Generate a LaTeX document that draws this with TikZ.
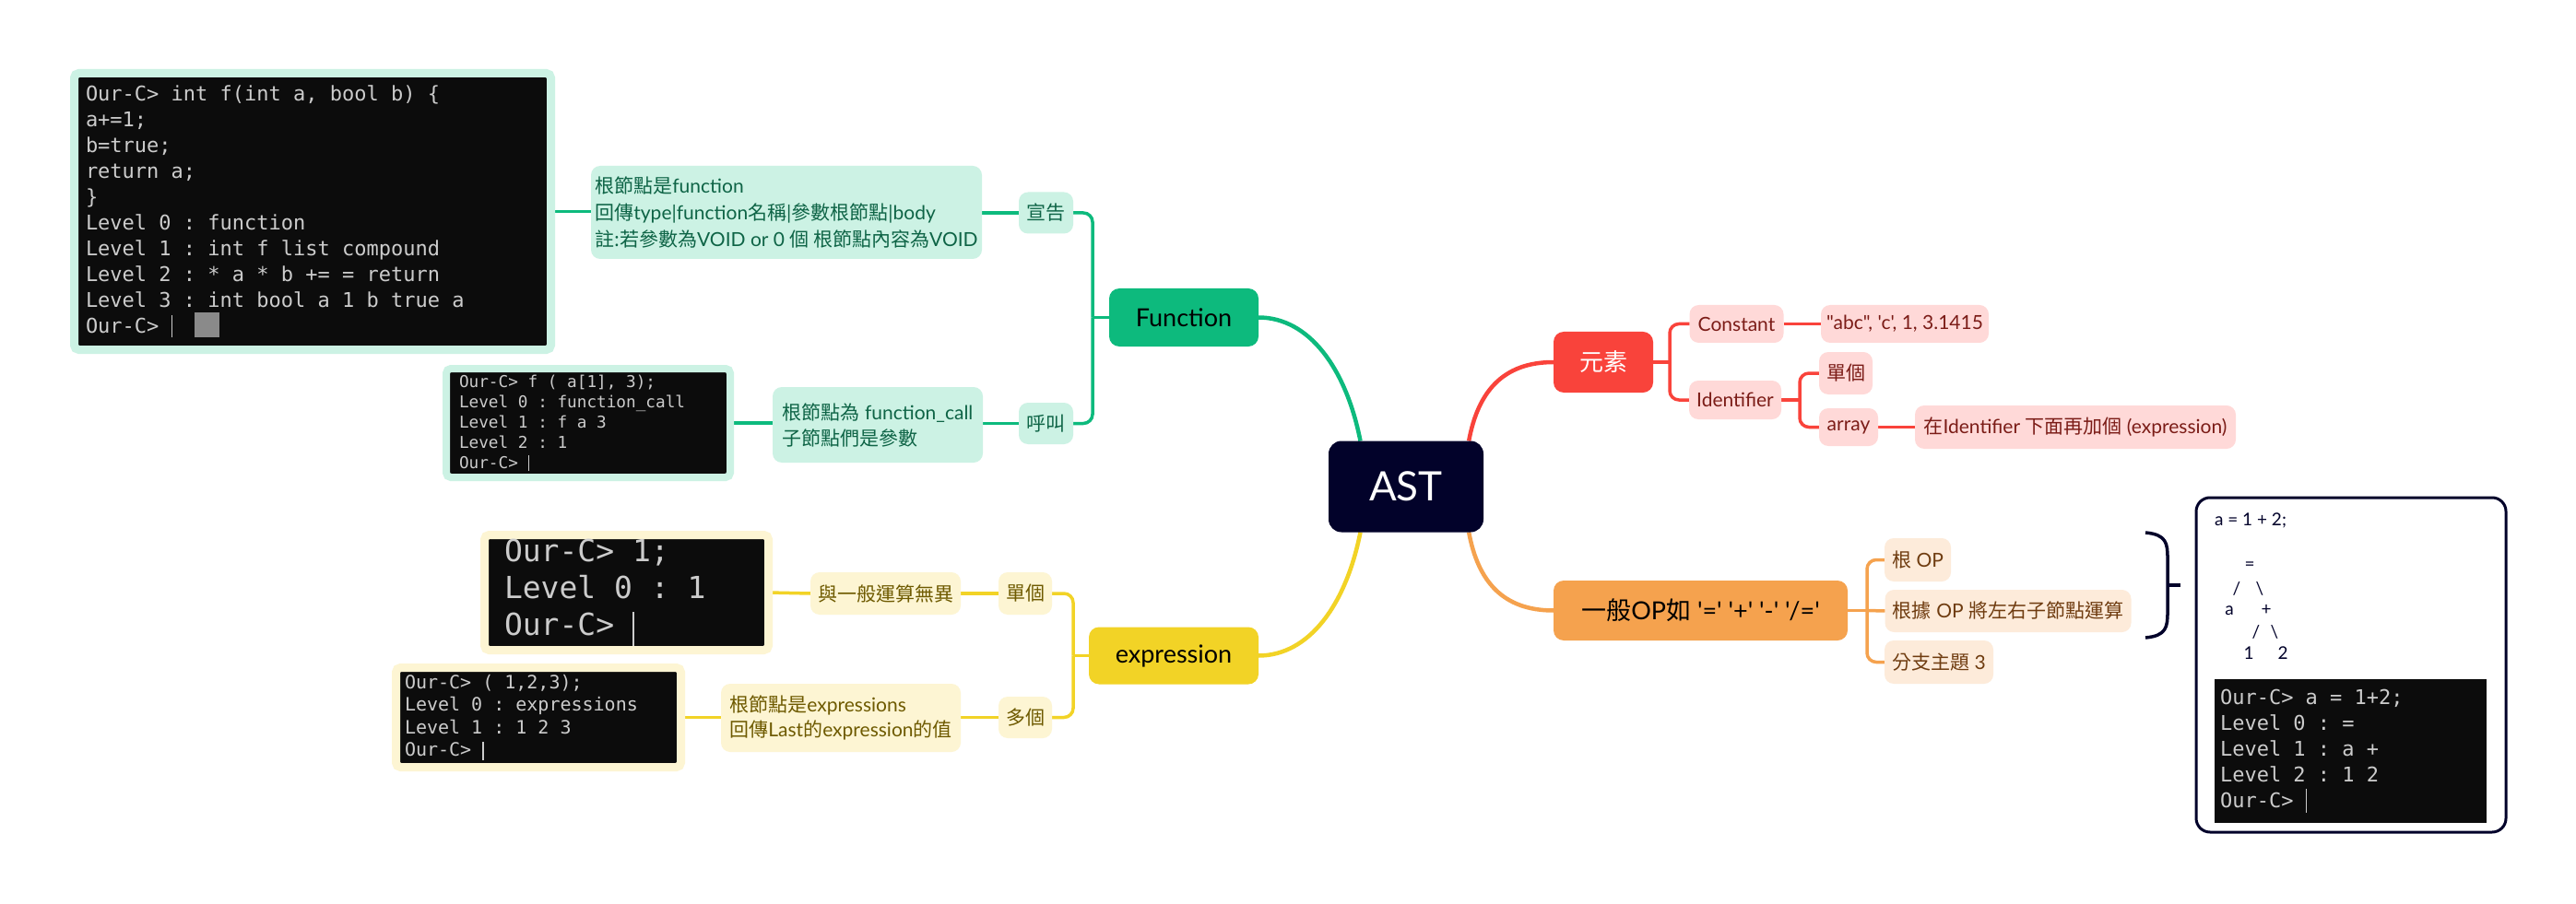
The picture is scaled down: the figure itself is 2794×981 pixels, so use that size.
\documentclass[tikz,border=0pt]{standalone}
\usepackage{fontspec}
\setmainfont{Lato}[Ligatures=TeXOff]
\newfontfamily\cjk{Noto Sans CJK TC}
\newfontfamily\term{DejaVu Sans Mono}[Ligatures=TeXOff]
\newcommand\myfs[2]{\fontsize{#1}{#2}\selectfont}
\newcommand\mono[2]{\term\fontsize{#1}{#2}\selectfont\frenchspacing}
\newcommand\msp{\spaceskip=0.602em\relax\xspaceskip=0.602em\relax}
\newcommand\zh[1]{{\cjk #1}}
\usetikzlibrary{calc}
\pgfdeclarelayer{bgl}
\pgfsetlayers{bgl,main}
\definecolor{cgreen}{HTML}{0DBA7D}
\definecolor{cmint}{HTML}{CCF2E4}
\definecolor{cmintt}{HTML}{0E6446}
\definecolor{cyellow}{HTML}{F2D326}
\definecolor{clyellow}{HTML}{FDF5D3}
\definecolor{cyellowt}{HTML}{6E5A00}
\definecolor{cred}{HTML}{F9433B}
\definecolor{cpink}{HTML}{FFD9D8}
\definecolor{credt}{HTML}{7B1C17}
\definecolor{corange}{HTML}{F5A24E}
\definecolor{cpeach}{HTML}{FDEBDA}
\definecolor{corant}{HTML}{6F3C10}
\definecolor{cnavy}{HTML}{02022A}
\definecolor{cterm}{HTML}{0C0C0C}
\definecolor{ctermt}{HTML}{CCCCCC}
\definecolor{cblock}{HTML}{8A8A8A}
\begin{document}
\begin{tikzpicture}[x=1pt,y=-1pt,
  every node/.style={inner sep=0pt,outer sep=0pt},
  topic/.style={rounded corners=11pt,align=center},
  sub/.style={rounded corners=10pt,align=center,font=\myfs{21}{28}},
  note/.style={rounded corners=10pt,align=left,font=\myfs{21}{28}},
  gsub/.style={sub,fill=cmint,text=cmintt},
  ysub/.style={sub,fill=clyellow,text=cyellowt},
  rsub/.style={sub,fill=cpink,text=credt},
  osub/.style={sub,fill=cpeach,text=corant},
  termb/.style={fill=cterm,text=ctermt,align=left,rounded corners=5pt},
  tree/.style={anchor=base,text=cnavy,font=\myfs{19}{22}},
  cline/.style={line width=3.5pt},
  mline/.style={line width=4.5pt},
  rc/.style={rounded corners=10pt}
]
\useasboundingbox (0,0) rectangle (2794,981);

% ---------- centre ----------
\node[topic,fill=cnavy,text=white,rounded corners=14pt,minimum width=168pt,minimum height=99pt,font=\myfs{44}{50}] (ast) at (1525,528) {AST};

% ---------- main topics ----------
\node[topic,fill=cgreen,text=black,minimum width=162pt,minimum height=63pt,font=\myfs{27}{32}] (fn) at (1284,344.5) {Function};
\node[topic,fill=cyellow,text=black,minimum width=184pt,minimum height=62pt,font=\myfs{27}{32}] (expr) at (1273,711.5) {expression};
\node[topic,fill=cred,text=white,minimum width=108pt,minimum height=66pt,font=\cjk\myfs{26}{30}] (elem) at (1739,393) {元素};
\node[topic,fill=corange,text=black,minimum width=319pt,minimum height=65pt,font=\myfs{27}{32}] (op) at (1844.5,662.5) {\zh{一般}OP\zh{如} '=' '+' '-' '/='};

% ---------- Function branch ----------
\node[gsub,font=\cjk\myfs{21}{28},minimum width=59pt,minimum height=45pt] (decl) at (1134.5,231) {宣告};
\node[gsub,font=\cjk\myfs{21}{28},minimum width=59pt,minimum height=45pt] (call) at (1134.5,459.5) {呼叫};
\node[note,fill=cmint,text=cmintt,font=\myfs{21}{29},minimum width=424pt,minimum height=101pt] (decln) at (853,230.5)
  {\zh{根節點是}function\\\zh{回傳}type|function\zh{名稱}|\zh{參數根節點}|body\\\zh{註:若參數為}VOID or 0 \zh{個 根節點內容為}VOID};
\node[note,fill=cmint,text=cmintt,minimum width=228pt,minimum height=82pt] (calln) at (952,461)
  {\zh{根節點為} function\_call\\\zh{子節點們是參數}};
\node[termb,draw=cmint,line width=9pt,minimum width=517pt,minimum height=300pt,text width=492pt,inner xsep=12.5pt,font=\mono{22}{28}] (t1) at (339,229.5)
  {\msp Our-C> int f(int a, bool b) \{\\
   a+=1;\\
   b=true;\\
   return a;\\
   \}\\
   Level 0 : function\\
   Level 1 : int f list compound\\
   Level 2 : * a * b += = return\\
   Level 3 : int bool a 1 b true a\\
   Our-C> \rule[-5pt]{1.5pt}{24pt}\hspace{24pt}\textcolor{cblock}{\rule[-5pt]{27pt}{27pt}}};
\node[termb,draw=cmint,line width=8pt,minimum width=308pt,minimum height=118pt,text width=280pt,inner xsep=14pt,font=\mono{17.7}{22}] (t2) at (638,459)
  {\msp Our-C> f ( a[1], 3);\\
   Level 0 : function\_call\\
   Level 1 : f a 3\\
   Level 2 : 1\\
   Our-C> \rule[-3pt]{1.2pt}{17pt}};

% ---------- expression branch ----------
\node[ysub,font=\cjk\myfs{21}{28},minimum width=58pt,minimum height=46pt] (single) at (1112,644) {單個};
\node[ysub,font=\cjk\myfs{21}{28},minimum width=58pt,minimum height=45pt] (multi) at (1112,778.5) {多個};
\node[ysub,font=\cjk\myfs{21}{28},minimum width=163pt,minimum height=46pt] (same) at (960.5,644) {與一般運算無異};
\node[note,fill=clyellow,text=cyellowt,font=\myfs{21}{26.5},minimum width=260pt,minimum height=74pt] (exprn) at (912,779)
  {\zh{根節點是}expressions\\\zh{回傳}Last\zh{的}expression\zh{的值}};
\node[termb,draw=clyellow,line width=9pt,minimum width=308pt,minimum height=125pt,text width=265pt,inner xsep=21.5pt,font=\mono{33}{40}] (t3) at (679.5,643)
  {\msp Our-C> 1;\\
   Level 0 : 1\\
   Our-C> \rule[-11pt]{1.5pt}{37pt}};
\node[termb,draw=clyellow,line width=9pt,minimum width=309pt,minimum height=108pt,text width=290pt,inner xsep=9.5pt,font=\mono{20}{24.5}] (t4) at (584,778.5)
  {\msp Our-C> ( 1,2,3);\\
   Level 0 : expressions\\
   Level 1 : 1 2 3\\
   Our-C> \rule[-4pt]{1.3pt}{20pt}};

% ---------- element branch ----------
\node[rsub,minimum width=102pt,minimum height=41pt] (const) at (1883.5,351.5) {Constant};
\node[rsub,minimum width=100pt,minimum height=42pt] (ident) at (1882,434) {Identifier};
\node[rsub,minimum width=182pt,minimum height=41pt] (abc) at (2066,351.5) {"abc", 'c', 1, 3.1415};
\node[rsub,font=\cjk\myfs{21}{28},minimum width=58pt,minimum height=46pt] (single2) at (2002,405) {單個};
\node[rsub,minimum width=64pt,minimum height=41pt] (array) at (2005,463.5) {array};
\node[rsub,minimum width=348pt,minimum height=47pt] (inid) at (2251,463.5) {\zh{在}Identifier \zh{下面再加個} (expression)};

% ---------- operator branch ----------
\node[osub,minimum width=72pt,minimum height=47pt] (rootop) at (2080,607.5) {\zh{根} OP};
\node[osub,minimum width=267pt,minimum height=46pt] (byop) at (2178,663) {\zh{根據} OP \zh{將左右子節點運算}};
\node[osub,minimum width=118pt,minimum height=47pt] (br3) at (2103,718.5) {\zh{分支主題} 3};

% ---------- example panel ----------
\node[draw=cnavy,line width=3pt,rounded corners=15pt,minimum width=336pt,minimum height=363pt] (panel) at (2550,721.5) {};
\node[anchor=base west,text=cnavy,font=\myfs{19}{22}] (formula) at (2402,570) {a = 1 + 2;};
\node[tree] (g1) at (2440,618) {=};
\node[tree] (g2) at (2426,645) {/};
\node[tree] (g3) at (2451,645) {\textbackslash};
\node[tree] (g4) at (2418,667) {a};
\node[tree] (g5) at (2458,667) {+};
\node[tree] (g6) at (2447,692) {/};
\node[tree] (g7) at (2467,692) {\textbackslash};
\node[tree] (g8) at (2439,715) {1};
\node[tree] (g9) at (2476,715) {2};
\node[termb,rounded corners=0pt,minimum width=295pt,minimum height=156pt,text width=283pt,inner xsep=6pt,font=\mono{22}{28}] (t5) at (2549.5,815)
  {\msp Our-C> a = 1+2;\\
   Level 0 : =\\
   Level 1 : a +\\
   Level 2 : 1 2\\
   Our-C> \rule[-5pt]{1.5pt}{26pt}};
\draw[cnavy,line width=3.5pt] (2327,578) .. controls (2350,580) and (2351,590) .. (2351,606) -- (2351,664) .. controls (2351,680) and (2350,690) .. (2327,692);
\draw[cnavy,line width=3.5pt] (2351,635) -- (2365,635);

% ---------- connectors ----------
\begin{pgfonlayer}{bgl}
\fill[white] (0,0) rectangle (2794,981);
\draw[mline,cgreen] (ast.135) .. controls (1460,400) and (1420,344.5) .. (fn.east);
\draw[mline,cred] (ast.36) .. controls (1603,425) and (1630,393) .. (elem.west);
\draw[mline,cyellow] (ast.225) .. controls (1460,656) and (1420,711.5) .. (expr.east);
\draw[mline,corange] (ast.-36) .. controls (1603,631) and (1630,662.5) .. (op.west);

\coordinate (gsp) at (1185,344.5);
\draw[cline,cgreen] (gsp) -- (fn.west);
\draw[cline,cgreen,rc] (decl.east) -| (gsp);
\draw[cline,cgreen,rc] (call.east) -| (gsp);
\draw[cline,cgreen] (t1.east) -- (t1.east -| decln.west);
\draw[cline,cgreen] (decln.east |- decl.west) -- (decl.west);
\draw[cline,cgreen] (t2.east) -- (t2.east -| calln.west);
\draw[cline,cgreen] (calln.east |- call.west) -- (call.west);

\coordinate (ysp) at (1164,711.5);
\draw[cline,cyellow] (ysp) -- (expr.west);
\draw[cline,cyellow,rc] (single.east) -| (ysp);
\draw[cline,cyellow,rc] (multi.east) -| (ysp);
\draw[cline,cyellow] (t3.east) -- (same.west);
\draw[cline,cyellow] (same.east) -- (single.west);
\draw[cline,cyellow] (t4.east) -- (t4.east -| exprn.west);
\draw[cline,cyellow] (exprn.east |- multi.west) -- (multi.west);

\coordinate (rsp) at (1811,393);
\draw[cline,cred] (elem.east) -- (rsp);
\draw[cline,cred,rc] (rsp) |- (const.west);
\draw[cline,cred,rc] (rsp) |- (ident.west);
\draw[cline,cred] (const.east) -- (abc.west);
\coordinate (isp) at (1952,434);
\draw[cline,cred] (ident.east) -- (isp);
\draw[cline,cred,rc] (isp) |- (single2.west);
\draw[cline,cred,rc] (isp) |- (array.west);
\draw[cline,cred] (array.east) -- (inid.west);

\coordinate (osp) at (2025,662.5);
\draw[cline,corange] (op.east) -- (osp);
\draw[cline,corange,rc] (osp) |- (rootop.west);
\draw[cline,corange,rc] (osp) |- (br3.west);
\draw[cline,corange] (osp) -- (byop.west);
\end{pgfonlayer}
\end{tikzpicture}
\end{document}
